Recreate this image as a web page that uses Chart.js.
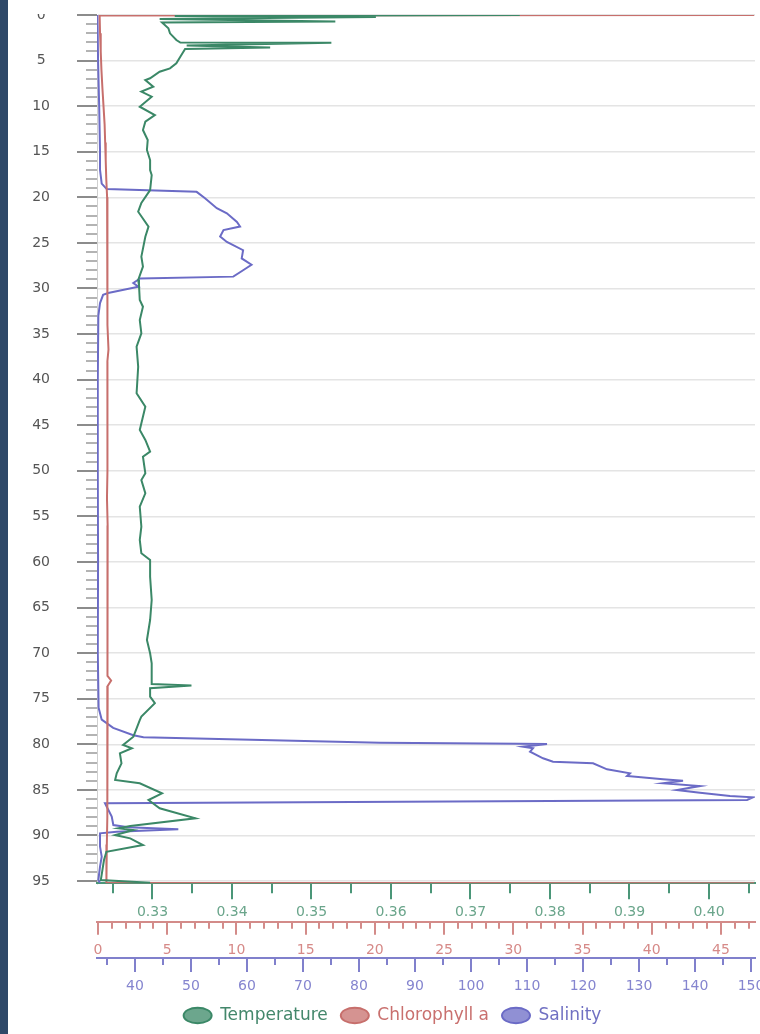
<!DOCTYPE html>
<html>
<head>
  <title>Depth Profile</title>
  <script src="https://cdn.jsdelivr.net/npm/chart.js"></script>
  <style>
    body { margin: 0; background: #fff; }
    #strip { position: absolute; left: 0; top: 0; width: 8px; height: 1034px; background: #2e4868; }
    #profileChart { position: absolute; left: 8px; top: 14px; }
  </style>
</head>
<body>
  <div id="strip"></div>
  <canvas id="profileChart" width="752" height="1020"></canvas>

  <script>
    // depth (m) and readings for each probe channel
    const tempDepth = [0, 0.11, 0.22, 0.44, 0.71, 0.82, 1.46, 2.01, 2.74, 3.02, 3.04, 3.35, 3.57, 3.73, 4.57, 5.30, 5.85, 6.22, 6.94, 7.13,
      7.87, 8.41, 8.96, 10.06, 10.97, 11.70, 12.62, 13.71, 14.81, 15.91, 17.00, 17.55, 19.20, 20.62, 21.58, 23.22, 24.32, 26.51, 27.61, 29.07,
      29.62, 31.26, 32.00, 33.46, 34.92, 36.39, 38.58, 41.50, 42.97, 45.52, 46.62, 47.90, 48.45, 50.28, 51.02, 52.47, 53.94, 56.13, 57.59, 59.05,
      59.79, 61.62, 64.17, 66.37, 68.56, 70.02, 71.12, 73.39, 73.55, 73.86, 74.78, 75.50, 76.97, 77.34, 79.17, 80.08, 80.44, 80.99, 82.09, 83.18,
      83.92, 84.28, 85.38, 86.11, 87.02, 88.12, 88.96, 89.22, 89.41, 89.96, 90.32, 91.05, 91.79, 92.70, 93.80, 94.89, 95.2];
    const tempValue = [0.3762, 0.3328, 0.3581, 0.3309, 0.3530, 0.3312, 0.3320, 0.3322, 0.3330, 0.3335, 0.3525, 0.3343, 0.3448, 0.3341, 0.3335, 0.3330, 0.3322, 0.3309, 0.3297, 0.3291,
      0.3301, 0.3286, 0.3299, 0.3284, 0.3303, 0.3291, 0.3288, 0.3294, 0.3293, 0.3297, 0.3297, 0.3299, 0.3297, 0.3286, 0.3282, 0.3295, 0.3291, 0.3286, 0.3288, 0.3282,
      0.3283, 0.3284, 0.3288, 0.3284, 0.3286, 0.3280, 0.3282, 0.3280, 0.3291, 0.3284, 0.3291, 0.3297, 0.3288, 0.3291, 0.3286, 0.3291, 0.3284, 0.3286, 0.3284, 0.3286,
      0.3297, 0.3297, 0.3299, 0.3297, 0.3293, 0.3297, 0.3299, 0.3299, 0.3349, 0.3297, 0.3297, 0.3303, 0.3286, 0.3284, 0.3276, 0.3263, 0.3274, 0.3259, 0.3261, 0.3255,
      0.3253, 0.3284, 0.3312, 0.3295, 0.3309, 0.3354, 0.3272, 0.3257, 0.3276, 0.3253, 0.3272, 0.3288, 0.3242, 0.3239, 0.3237, 0.3235, 0.3297];

    const chlDepth = [0, 0.05, 2, 4, 6, 8, 10, 12, 14, 16, 18, 20, 22, 25, 28, 31, 34, 36.7, 38, 41, 44,
      47, 50, 53, 56, 59, 62, 65, 68, 71, 72.5, 73, 73.6, 76, 79, 82, 85, 88, 91, 94, 95.2, 95.25];
    const chlValue = [47.4, 0.12, 0.15, 0.2, 0.25, 0.32, 0.4, 0.48, 0.52, 0.56, 0.6, 0.66, 0.68, 0.7, 0.68, 0.66, 0.7, 0.76, 0.68, 0.7, 0.66,
      0.7, 0.68, 0.65, 0.7, 0.67, 0.69, 0.66, 0.7, 0.68, 0.72, 0.95, 0.7, 0.66, 0.68, 0.7, 0.66, 0.68, 0.64, 0.62, 0.6, 47.4];

    const salDepth = [0, 5, 10, 15, 17, 18.5, 19.1, 19.4, 20.1, 21.2, 21.75, 22.7, 23.2, 23.6, 24.3, 24.9, 25.8, 26.7, 27.4, 28.0,
      28.7, 28.9, 29.4, 29.8, 30.5, 30.7, 31.6, 33, 40, 50, 60, 70, 76, 77.3, 78.2, 79.0, 79.23, 79.83, 79.95, 79.98,
      80.27, 80.44, 80.81, 81.54, 81.91, 82.09, 82.75, 83.18, 83.48, 83.84, 84.0, 84.28, 84.58, 85.02, 85.31, 85.67, 85.82, 86.11, 86.47, 86.85,
      87.94, 88.86, 89.11, 89.33, 89.59, 89.77, 91.23, 92.33, 93.43, 94.89, 95.2];
    const salValue = [33.3, 33.4, 33.6, 33.75, 33.75, 34.05, 34.95, 51.0, 52.5, 54.6, 56.4, 58.2, 58.75, 55.8, 55.2, 56.4, 59.3, 59.05, 60.8, 59.3,
      57.55, 40.9, 39.7, 40.6, 35.2, 34.3, 33.75, 33.45, 33.35, 33.35, 33.4, 33.35, 33.5, 34.05, 36.1, 39.7, 41.5, 83.75, 108.75, 113.57,
      109.29, 111.07, 110.54, 112.86, 114.64, 121.79, 124.29, 128.39, 127.86, 134.29, 137.86, 134.29, 140.89, 136.79, 140.89, 146.25, 150.36, 149.29, 34.64, 34.95,
      35.84, 36.13, 38.8, 47.73, 36.73, 33.75, 33.75, 34.05, 33.75, 33.45, 33.75];

    // tick positions (major ones get a label)
    const depthTicks = Array.from({length: 96}, (_, i) => i);
    const tempTicks = [0.325, 0.33, 0.335, 0.34, 0.345, 0.35, 0.355, 0.36, 0.365, 0.37, 0.375, 0.38, 0.385, 0.39, 0.395, 0.40, 0.405];
    const chlTicks = Array.from({length: 48}, (_, i) => i);
    const salTicks = Array.from({length: 24}, (_, i) => 35 + i * 5);

    const toPoints = (depth, value) => depth.map((d, i) => ({x: value[i], y: d}));
    const isMajor = (v, step) => Math.abs(v / step - Math.round(v / step)) < 1e-6;

    const tickStyle = {
      y:  {step: 5,    major: 20, minor: 11, color: '#666',    minorColor: '#9a9a9a', width: 1.5},
      xT: {step: 0.01, major: 16, minor: 10, color: '#4a9678', minorColor: '#4a9678', width: 2},
      xC: {step: 5,    major: 13, minor: 7,  color: '#d38b89', minorColor: '#d38b89', width: 2},
      xS: {step: 10,   major: 14, minor: 7,  color: '#8080cc', minorColor: '#8080cc', width: 2}
    };

    // draws major/minor tick marks with different lengths
    const tickMarks = {
      id: 'tickMarks',
      beforeDatasetsDraw(chart) {
        const ctx = chart.ctx;
        Object.values(chart.scales).forEach(scale => {
          const st = tickStyle[scale.id];
          if (!st) return;
          ctx.save();
          ctx.lineWidth = st.width;
          scale.ticks.forEach(t => {
            const major = isMajor(t.value, st.step);
            const len = major ? st.major : st.minor;
            const p = Math.round(scale.getPixelForValue(t.value));
            ctx.strokeStyle = major ? st.color : st.minorColor;
            ctx.beginPath();
            if (scale.axis === 'y') {
              ctx.moveTo(scale.right - len, p);
              ctx.lineTo(scale.right, p);
            } else {
              ctx.moveTo(p, scale.top);
              ctx.lineTo(p, scale.top + len);
            }
            ctx.stroke();
          });
          ctx.restore();
        });
      }
    };

    function bottomAxis(id, opts) {
      return {
        axis: 'x',
        type: 'linear',
        position: 'bottom',
        weight: opts.weight,
        min: opts.min,
        max: opts.max,
        afterBuildTicks: s => { s.ticks = opts.ticks.map(v => ({value: v})); },
        afterFit: s => { s.height = opts.height; s.paddingLeft = 0; s.paddingRight = 0; },
        grid: { display: true, drawOnChartArea: false, drawTicks: true, tickLength: tickStyle[id].major, tickColor: 'transparent' },
        border: { display: true, color: tickStyle[id].color, width: 2 },
        ticks: {
          autoSkip: false,
          maxRotation: 0,
          minRotation: 0,
          padding: opts.pad,
          color: opts.labelColor,
          font: { size: 14 },
          callback: v => isMajor(v, tickStyle[id].step) ? opts.format(v) : ''
        }
      };
    }

    Chart.defaults.font.family = '"DejaVu Sans", sans-serif';

    const lineColors = ['#3b8867', '#c76f6c', '#6b6bc6'];
    const fillColors = ['rgba(59,136,103,0.75)', 'rgba(199,111,108,0.75)', 'rgba(107,107,198,0.75)'];
    const legendText = ['#43876b', '#c9706e', '#7070c2'];

    const ctx = document.getElementById('profileChart').getContext('2d');
    new Chart(ctx, {
      type: 'scatter',
      data: {
        datasets: [
          { label: 'Temperature', data: toPoints(tempDepth, tempValue), xAxisID: 'xT' },
          { label: 'Chlorophyll a', data: toPoints(chlDepth, chlValue), xAxisID: 'xC' },
          { label: 'Salinity', data: toPoints(salDepth, salValue), xAxisID: 'xS' }
        ].map((ds, i) => Object.assign(ds, {
          yAxisID: 'y',
          showLine: true,
          tension: 0,
          borderWidth: 2,
          borderColor: lineColors[i],
          backgroundColor: fillColors[i],
          pointRadius: 0,
          pointHoverRadius: 0,
          pointBorderWidth: 2,
          pointStyle: 'circle'
        }))
      },
      options: {
        responsive: false,
        animation: false,
        layout: { padding: { top: 1, right: 5, bottom: 0, left: 22 } },
        scales: {
          y: {
            type: 'linear',
            reverse: true,
            min: 0,
            max: 95.25,
            afterBuildTicks: s => { s.ticks = depthTicks.map(v => ({value: v})); },
            afterFit: s => { s.width = 67; s.paddingTop = 0; s.paddingBottom = 0; },
            grid: {
              color: c => (c.tick && c.tick.value % 5 === 0) ? '#e4e4e4' : 'transparent',
              lineWidth: 1.5,
              drawTicks: true,
              tickLength: 20,
              tickColor: 'transparent'
            },
            border: { display: true, color: '#d0d0d0' },
            ticks: {
              autoSkip: false,
              crossAlign: 'center',
              padding: 27,
              color: '#555',
              font: { size: 14 },
              callback: v => v % 5 === 0 ? String(v) : ''
            }
          },
          xT: bottomAxis('xT', { weight: 1, min: 0.32302, max: 0.40579, ticks: tempTicks, height: 38.4, pad: 5,
            labelColor: '#6aa58b', format: v => v.toFixed(2) }),
          xC: bottomAxis('xC', { weight: 2, min: -0.07, max: 47.46, ticks: chlTicks, height: 36.3, pad: 7,
            labelColor: '#d68a88', format: v => String(v) }),
          xS: bottomAxis('xS', { weight: 3, min: 33.21, max: 150.71, ticks: salTicks, height: 36, pad: 5.6,
            labelColor: '#8585cf', format: v => String(v) })
        },
        plugins: {
          tooltip: { enabled: false },
          legend: {
            position: 'bottom',
            labels: {
              usePointStyle: true,
              pointStyle: 'circle',
              pointStyleWidth: 28,
              boxHeight: 11,
              padding: 13,
              font: { size: 17 },
              generateLabels(chart) {
                const items = Chart.defaults.plugins.legend.labels.generateLabels(chart);
                items.forEach((item, i) => { item.fontColor = legendText[i]; });
                return items;
              }
            }
          }
        }
      },
      plugins: [tickMarks]
    });
  </script>
</body>
</html>
